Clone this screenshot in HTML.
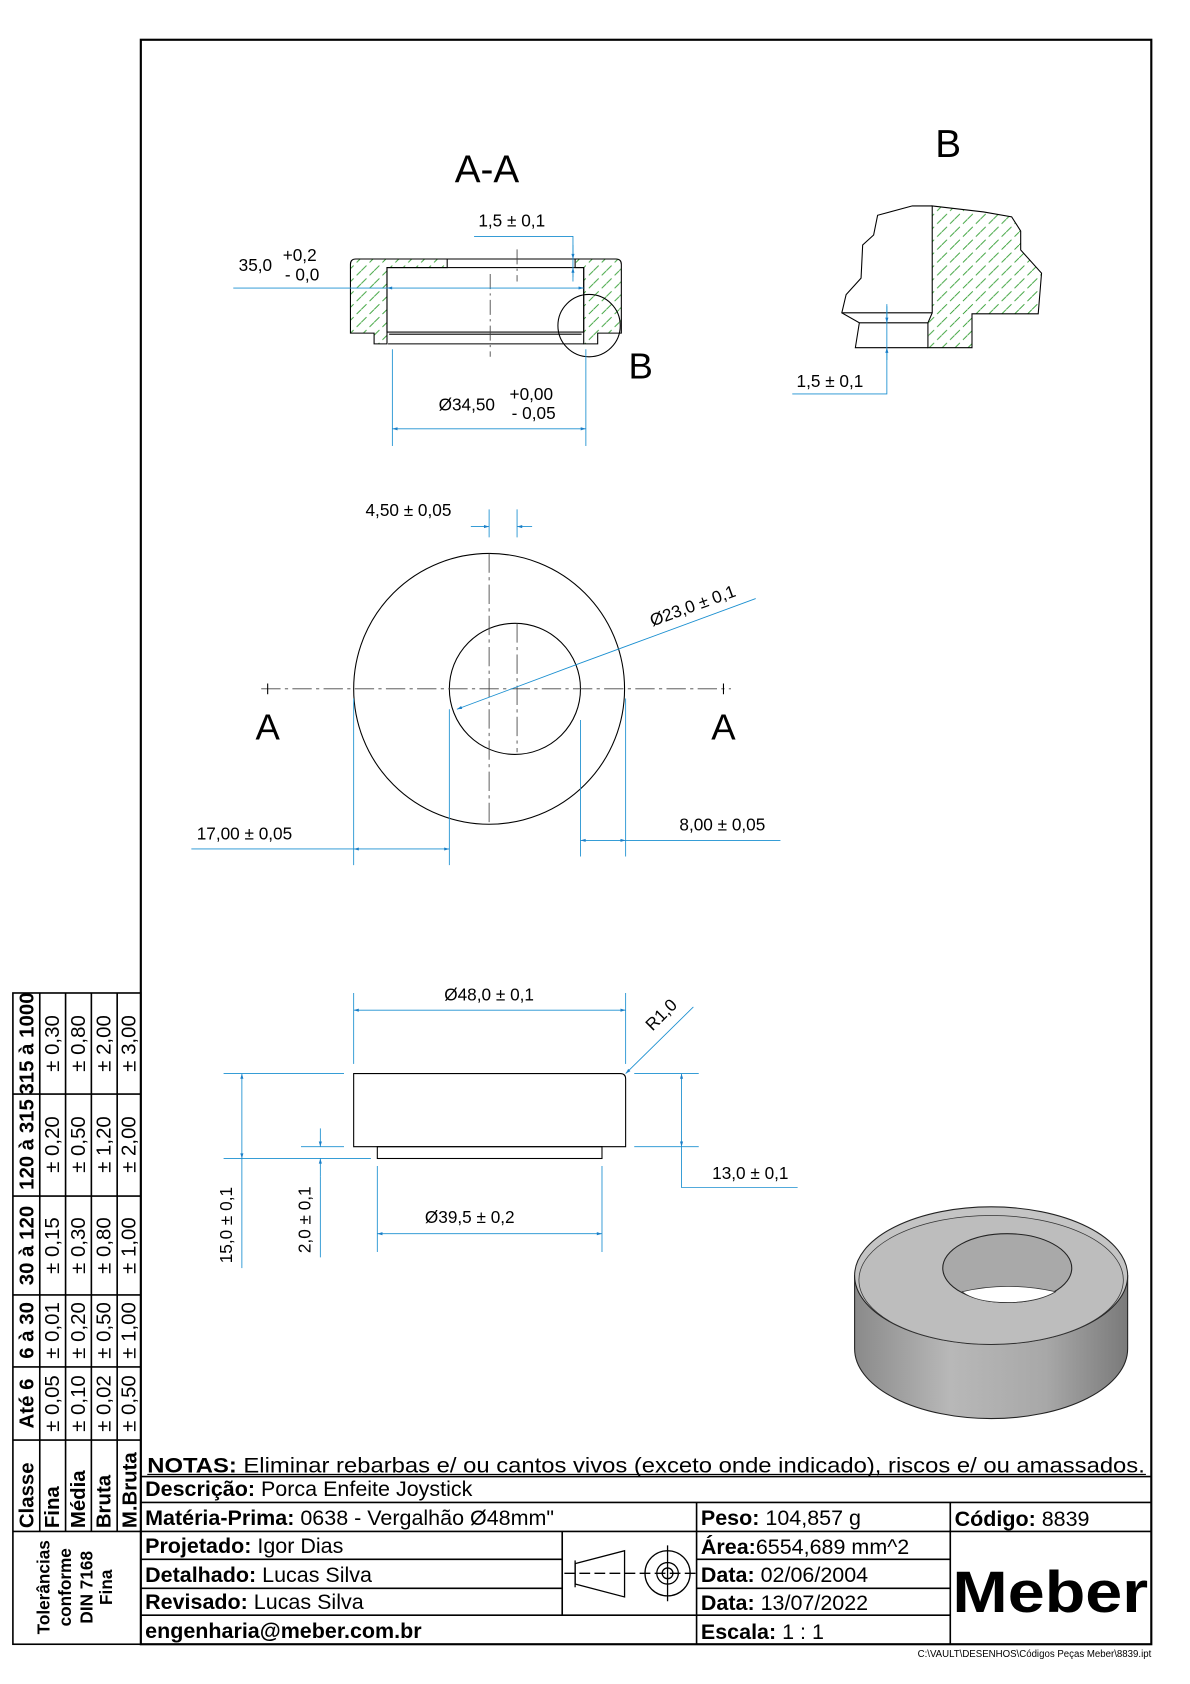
<!DOCTYPE html>
<html><head><meta charset="utf-8"><style>
html,body{margin:0;padding:0;background:#fff;}
svg{display:block;font-family:"Liberation Sans",sans-serif;}
</style></head><body>
<svg width="1190" height="1684" viewBox="0 0 1107 1567" preserveAspectRatio="none" xmlns="http://www.w3.org/2000/svg">
<defs>
<pattern id="h" patternUnits="userSpaceOnUse" width="12" height="12">
<line x1="0" y1="12" x2="12" y2="0" stroke="#2a9a2a" stroke-width="0.8" stroke-dasharray="7 4"/>
</pattern>
<linearGradient id="g1" x1="0" x2="1" y1="0" y2="0">
<stop offset="0" stop-color="#8a8a8a"/><stop offset="0.35" stop-color="#b8b8b8"/><stop offset="0.7" stop-color="#a8a8a8"/><stop offset="1" stop-color="#7a7a7a"/>
</linearGradient>
<marker id="ar" viewBox="0 0 10 10" refX="10" refY="5" markerWidth="8" markerHeight="6" orient="auto-start-reverse"><path d="M0,2 L10,5 L0,8 z" fill="#1a7fc8"/></marker>
</defs>

<rect x="131" y="37" width="940" height="1493" fill="none" stroke="#000" stroke-width="2"/>

<!-- ===== SECTION A-A ===== -->
<text x="453" y="170" font-size="36" text-anchor="middle">A-A</text>
<g stroke="#000" stroke-width="1" fill="none">
<path d="M326,310 L326,246 Q326,241 331,241 L416,241 L416,249 L360,249 L360,320 L348,320 L348,310 Z" fill="url(#h)"/>
<path d="M535,241 L573,241 Q578,241 578,246 L578,310 L556,310 L556,320 L543,320 L543,249 L535,249 Z" fill="url(#h)"/>
<line x1="416" y1="241" x2="535" y2="241"/>
<rect x="360" y="249" width="183" height="60"/>
<line x1="362" y1="311" x2="541" y2="311"/>
<line x1="361" y1="320" x2="543" y2="320"/>
<circle cx="548" cy="303" r="29"/>
</g>
<text x="596" y="352" font-size="34" text-anchor="middle">B</text>
<g stroke="#444" stroke-width="0.8" stroke-dasharray="14 4 2 4">
<line x1="456" y1="255" x2="456" y2="332"/>
<line x1="481" y1="232" x2="481" y2="262"/>
</g>
<g stroke="#1a8fd0" stroke-width="0.8" fill="none">
<line x1="217" y1="268" x2="360" y2="268"/>
<line x1="360" y1="268" x2="543" y2="268" marker-start="url(#ar)" marker-end="url(#ar)"/>
<polyline points="441,220 533,220 533,258"/>
<line x1="533" y1="228" x2="533" y2="241" marker-end="url(#ar)"/>
<line x1="533" y1="262" x2="533" y2="249" marker-end="url(#ar)"/>
<line x1="365" y1="325" x2="365" y2="415"/><line x1="545" y1="325" x2="545" y2="415"/>
<line x1="365" y1="399" x2="545" y2="399" marker-start="url(#ar)" marker-end="url(#ar)"/>
</g>
<g font-size="16">
<text x="222" y="252">35,0</text><text x="263" y="243">+0,2</text><text x="265" y="261">- 0,0</text>
<text x="445" y="211">1,5 ± 0,1</text>
<text x="408" y="382">Ø34,50</text><text x="474" y="372">+0,00</text><text x="476" y="390">- 0,05</text>
</g>

<!-- ===== DETAIL B ===== -->
<text x="882" y="146" font-size="36" text-anchor="middle">B</text>
<path d="M867.2,191.6 L915,197.2 L941.1,201.8 L949.5,215 L949.5,232.6 L968.9,254.2 L965.8,292 L904.2,292 L904.2,323.5 L863.2,323.5 L863.2,300.4 L867.2,291.1 Z" fill="url(#h)" stroke="#000" stroke-width="1"/>
<path d="M867.2,191.6 L848.7,191.6 L816.4,200.3 L812.7,218.7 L802.5,228 L801,258.8 L787.1,274.2 L783.1,291.1 L799.4,300.4 L795.7,323.5 L863.2,323.5" fill="none" stroke="#000" stroke-width="1"/>
<line x1="783.1" y1="291.1" x2="867.2" y2="291.1" stroke="#000"/>
<line x1="799.4" y1="300.4" x2="863.2" y2="300.4" stroke="#000"/>
<g stroke="#1a8fd0" stroke-width="0.8" fill="none">
<polyline points="825,283 825,366.6 737,366.6"/>
<line x1="825" y1="285" x2="825" y2="300.4" marker-end="url(#ar)"/>
<line x1="825" y1="335" x2="825" y2="323.5" marker-end="url(#ar)"/>
</g>
<text x="741" y="360" font-size="16">1,5 ± 0,1</text>

<!-- ===== FRONT VIEW ===== -->
<g stroke="#000" stroke-width="1" fill="none">
<circle cx="455" cy="641" r="126"/>
<circle cx="479" cy="641" r="61"/>
</g>
<g stroke="#444" stroke-width="0.8" stroke-dasharray="18 4 3 4">
<line x1="243" y1="641" x2="680" y2="641"/>
<line x1="455" y1="515" x2="455" y2="765"/>
<line x1="481" y1="580" x2="481" y2="700"/>
</g>
<line x1="249" y1="636" x2="249" y2="646" stroke="#000"/><line x1="673" y1="636" x2="673" y2="646" stroke="#000"/>
<text x="249" y="688" font-size="34" text-anchor="middle">A</text>
<text x="673" y="688" font-size="34" text-anchor="middle">A</text>
<g stroke="#1a8fd0" stroke-width="0.8" fill="none">
<line x1="455" y1="474" x2="455" y2="500"/><line x1="481" y1="474" x2="481" y2="500"/>
<line x1="438" y1="490" x2="455" y2="490" marker-end="url(#ar)"/>
<line x1="495" y1="490" x2="481" y2="490" marker-end="url(#ar)"/>
<line x1="703" y1="557" x2="540" y2="617"/>
<line x1="540" y1="617" x2="425" y2="660" marker-end="url(#ar)"/>
<line x1="329" y1="650" x2="329" y2="805"/><line x1="418" y1="660" x2="418" y2="805"/>
<line x1="178" y1="790" x2="329" y2="790"/>
<line x1="329" y1="790" x2="418" y2="790" marker-start="url(#ar)" marker-end="url(#ar)"/>
<line x1="540" y1="670" x2="540" y2="797"/><line x1="582" y1="650" x2="582" y2="797"/>
<line x1="540" y1="782" x2="582" y2="782" marker-start="url(#ar)" marker-end="url(#ar)"/>
<line x1="582" y1="782" x2="726" y2="782"/>
</g>
<g font-size="16">
<text x="340" y="480">4,50 ± 0,05</text>
<text x="607" y="583" transform="rotate(-20 607 583)">Ø23,0 ± 0,1</text>
<text x="183" y="781">17,00 ± 0,05</text>
<text x="632" y="773">8,00 ± 0,05</text>
</g>

<!-- ===== SIDE VIEW ===== -->
<g stroke="#000" stroke-width="1" fill="none">
<path d="M329,999 L577,999 Q582,999 582,1004 L582,1067 L329,1067 Z"/>
<rect x="351" y="1067" width="209" height="11"/>
</g>
<g stroke="#1a8fd0" stroke-width="0.8" fill="none">
<line x1="329" y1="924" x2="329" y2="990"/><line x1="582" y1="924" x2="582" y2="990"/>
<line x1="329" y1="940" x2="582" y2="940" marker-start="url(#ar)" marker-end="url(#ar)"/>
<line x1="645" y1="937" x2="582" y2="999" marker-end="url(#ar)"/>
<line x1="208" y1="999" x2="320" y2="999"/><line x1="208" y1="1078" x2="345" y2="1078"/>
<line x1="225" y1="999" x2="225" y2="1078" marker-start="url(#ar)" marker-end="url(#ar)"/>
<line x1="225" y1="1078" x2="225" y2="1180"/>
<line x1="280" y1="1067" x2="320" y2="1067"/>
<line x1="298" y1="1050" x2="298" y2="1067" marker-end="url(#ar)"/>
<line x1="298" y1="1095" x2="298" y2="1078" marker-end="url(#ar)"/>
<line x1="298" y1="1095" x2="298" y2="1170"/>
<line x1="590" y1="999" x2="650" y2="999"/><line x1="590" y1="1067" x2="650" y2="1067"/>
<line x1="634" y1="999" x2="634" y2="1067" marker-start="url(#ar)" marker-end="url(#ar)"/>
<polyline points="634,1067 634,1105 742,1105"/>
<line x1="351" y1="1085" x2="351" y2="1165"/><line x1="560" y1="1085" x2="560" y2="1165"/>
<line x1="351" y1="1148" x2="560" y2="1148" marker-start="url(#ar)" marker-end="url(#ar)"/>
</g>
<g font-size="16">
<text x="455" y="931" text-anchor="middle">Ø48,0 ± 0,1</text>
<text x="607" y="960" transform="rotate(-45 607 960)">R1,0</text>
<text x="216" y="1140" text-anchor="middle" transform="rotate(-90 216 1140)">15,0 ± 0,1</text>
<text x="289" y="1135" text-anchor="middle" transform="rotate(-90 289 1135)">2,0 ± 0,1</text>
<text x="698" y="1097" text-anchor="middle">13,0 ± 0,1</text>
<text x="437" y="1138" text-anchor="middle">Ø39,5 ± 0,2</text>
</g>

<!-- ===== 3D VIEW ===== -->
<g stroke="#222" stroke-width="1">
<path d="M795,1187 L795,1255 A127,65 0 0 0 1049,1255 L1049,1187 Z" fill="url(#g1)"/>
<ellipse cx="922" cy="1187" rx="127" ry="64" fill="#c4c4c4"/>
<ellipse cx="922" cy="1191" rx="123" ry="60" fill="#bdbdbd" stroke="#333" stroke-width="0.7"/>
<ellipse cx="937" cy="1180" rx="60" ry="32" fill="#a9a9a9"/>
<path d="M895,1202 Q937,1192 982,1202 Q965,1212 937,1212 Q908,1212 895,1202 Z" fill="#fff" stroke="#333" stroke-width="0.7"/>
</g>

<!-- ===== TOLERANCE TABLE ===== -->
<g stroke="#000" stroke-width="1.5" fill="none">
<rect x="12" y="924" width="119" height="606"/>
<line x1="12" y1="1018" x2="131" y2="1018"/><line x1="12" y1="1113" x2="131" y2="1113"/>
<line x1="12" y1="1205" x2="131" y2="1205"/><line x1="12" y1="1272" x2="131" y2="1272"/>
<line x1="12" y1="1340" x2="131" y2="1340"/><line x1="12" y1="1425" x2="131" y2="1425"/>
<line x1="37" y1="924" x2="37" y2="1425"/><line x1="61" y1="924" x2="61" y2="1425"/>
<line x1="85" y1="924" x2="85" y2="1425"/><line x1="109" y1="924" x2="109" y2="1425"/>
</g>
<g font-size="19">
<g font-weight="bold">
<text text-anchor="middle" transform="translate(31,971) rotate(-90)">315 à 1000</text>
<text text-anchor="middle" transform="translate(31,1065) rotate(-90)">120 à 315</text>
<text text-anchor="middle" transform="translate(31,1159) rotate(-90)">30 à 120</text>
<text text-anchor="middle" transform="translate(31,1238) rotate(-90)">6 à 30</text>
<text text-anchor="middle" transform="translate(31,1306) rotate(-90)">Até 6</text>
</g>
<text text-anchor="middle" transform="translate(55,971) rotate(-90)">± 0,30</text>
<text text-anchor="middle" transform="translate(55,1065) rotate(-90)">± 0,20</text>
<text text-anchor="middle" transform="translate(55,1159) rotate(-90)">± 0,15</text>
<text text-anchor="middle" transform="translate(55,1238) rotate(-90)">± 0,01</text>
<text text-anchor="middle" transform="translate(55,1306) rotate(-90)">± 0,05</text>
<text text-anchor="middle" transform="translate(79,971) rotate(-90)">± 0,80</text>
<text text-anchor="middle" transform="translate(79,1065) rotate(-90)">± 0,50</text>
<text text-anchor="middle" transform="translate(79,1159) rotate(-90)">± 0,30</text>
<text text-anchor="middle" transform="translate(79,1238) rotate(-90)">± 0,20</text>
<text text-anchor="middle" transform="translate(79,1306) rotate(-90)">± 0,10</text>
<text text-anchor="middle" transform="translate(103,971) rotate(-90)">± 2,00</text>
<text text-anchor="middle" transform="translate(103,1065) rotate(-90)">± 1,20</text>
<text text-anchor="middle" transform="translate(103,1159) rotate(-90)">± 0,80</text>
<text text-anchor="middle" transform="translate(103,1238) rotate(-90)">± 0,50</text>
<text text-anchor="middle" transform="translate(103,1306) rotate(-90)">± 0,02</text>
<text text-anchor="middle" transform="translate(126,971) rotate(-90)">± 3,00</text>
<text text-anchor="middle" transform="translate(126,1065) rotate(-90)">± 2,00</text>
<text text-anchor="middle" transform="translate(126,1159) rotate(-90)">± 1,00</text>
<text text-anchor="middle" transform="translate(126,1238) rotate(-90)">± 1,00</text>
<text text-anchor="middle" transform="translate(126,1306) rotate(-90)">± 0,50</text>
<g font-weight="bold">
<text transform="translate(31,1422) rotate(-90)">Classe</text>
<text transform="translate(55,1422) rotate(-90)">Fina</text>
<text transform="translate(79,1422) rotate(-90)">Média</text>
<text transform="translate(103,1422) rotate(-90)">Bruta</text>
<text transform="translate(127,1422) rotate(-90)">M.Bruta</text>
</g>
<g font-weight="bold" font-size="16">
<text text-anchor="middle" transform="translate(46,1477) rotate(-90)">Tolerâncias</text>
<text text-anchor="middle" transform="translate(66,1477) rotate(-90)">conforme</text>
<text text-anchor="middle" transform="translate(86,1477) rotate(-90)">DIN 7168</text>
<text text-anchor="middle" transform="translate(104,1477) rotate(-90)">Fina</text>
</g>
</g>

<!-- ===== TITLE BLOCK ===== -->
<g stroke="#000" stroke-width="1.5" fill="none">
<line x1="131" y1="1374" x2="1071" y2="1374"/>
<line x1="131" y1="1398" x2="1071" y2="1398"/>
<line x1="131" y1="1425" x2="1071" y2="1425"/>
<line x1="131" y1="1451" x2="523" y2="1451"/>
<line x1="131" y1="1478" x2="523" y2="1478"/>
<line x1="131" y1="1503" x2="648" y2="1503"/>
<line x1="648" y1="1451" x2="884" y2="1451"/>
<line x1="648" y1="1478" x2="884" y2="1478"/>
<line x1="648" y1="1503" x2="884" y2="1503"/>
<line x1="523" y1="1425" x2="523" y2="1503"/>
<line x1="648" y1="1398" x2="648" y2="1530"/>
<line x1="884" y1="1398" x2="884" y2="1530"/>
</g>
<g font-size="20">
<text x="137" y="1370" textLength="928" lengthAdjust="spacingAndGlyphs"><tspan font-weight="bold">NOTAS:</tspan> Eliminar rebarbas e/ ou cantos vivos (exceto onde indicado), riscos e/ ou amassados.</text>
<line x1="137" y1="1372" x2="1066" y2="1372" stroke="#000" stroke-width="1"/>
<text x="135" y="1392"><tspan font-weight="bold">Descrição:</tspan> Porca Enfeite Joystick</text>
<text x="135" y="1419"><tspan font-weight="bold">Matéria-Prima:</tspan> 0638 - Vergalhão Ø48mm"</text>
<text x="135" y="1445"><tspan font-weight="bold">Projetado:</tspan> Igor Dias</text>
<text x="135" y="1472"><tspan font-weight="bold">Detalhado:</tspan> Lucas Silva</text>
<text x="135" y="1497"><tspan font-weight="bold">Revisado:</tspan> Lucas Silva</text>
<text x="135" y="1524" font-weight="bold">engenharia@meber.com.br</text>
<text x="652" y="1419"><tspan font-weight="bold">Peso:</tspan> 104,857 g</text>
<text x="888" y="1420"><tspan font-weight="bold">Código:</tspan> 8839</text>
<text x="652" y="1446"><tspan font-weight="bold">Área:</tspan>6554,689 mm^2</text>
<text x="652" y="1472"><tspan font-weight="bold">Data:</tspan> 02/06/2004</text>
<text x="652" y="1498"><tspan font-weight="bold">Data:</tspan> 13/07/2022</text>
<text x="652" y="1525"><tspan font-weight="bold">Escala:</tspan> 1 : 1</text>
</g>
<text x="977" y="1500" font-size="54" font-weight="bold" text-anchor="middle" textLength="182" lengthAdjust="spacingAndGlyphs">Meber</text>
<g stroke="#000" stroke-width="1.2" fill="none">
<path d="M535,1455 L581,1443 L581,1486 L535,1474 Z"/>
<line x1="535" y1="1452" x2="535" y2="1477"/>
<circle cx="621" cy="1464" r="21"/>
<circle cx="621" cy="1464" r="10"/>
<circle cx="621" cy="1464" r="5"/>
<line x1="621" y1="1438" x2="621" y2="1490"/>
<line x1="525" y1="1464" x2="648" y2="1464" stroke-dasharray="10 4"/>
</g>
<text x="1071" y="1542" font-size="9" text-anchor="end">C:\VAULT\DESENHOS\Códigos Peças Meber\8839.ipt</text>
</svg>
</body></html>
